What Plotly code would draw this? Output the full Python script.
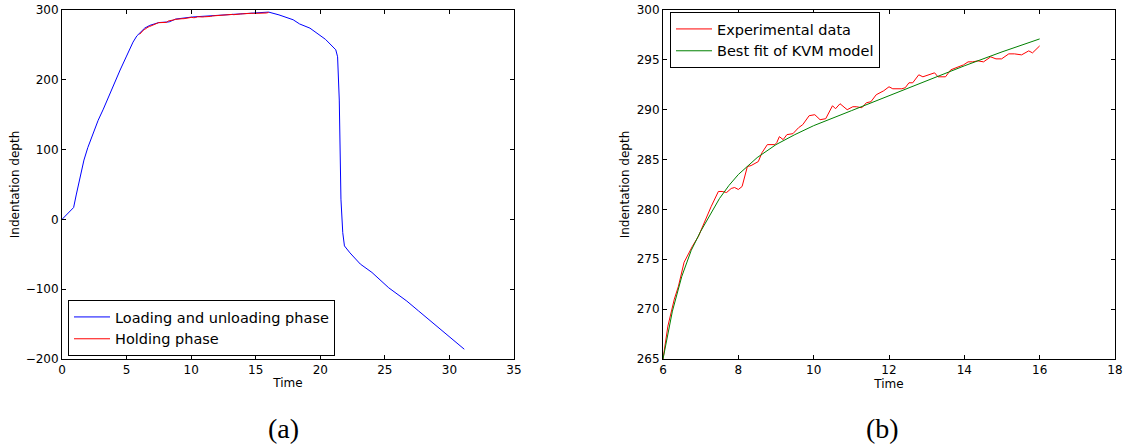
import plotly.graph_objects as go

# ---- Panel (a): loading and unloading phase ----
load_t = [0.0, 0.5, 0.9, 1.1, 1.4, 1.7, 2.0, 2.4, 2.8, 3.2, 3.6, 4.0, 4.5, 5.0, 5.5, 5.8,
          6.1, 6.4, 6.8, 7.5, 8.3, 8.8, 10.1, 12.5, 16.0, 16.8, 17.9, 18.4, 19.2, 20.4,
          21.2, 21.34, 21.47, 21.6, 21.74, 21.87, 22.3, 23.1, 24.0, 25.3, 26.7, 27.6,
          28.8, 29.9, 31.15]
load_d = [0, 10, 17, 35, 62, 85, 103, 124, 142, 158, 176, 194, 214, 234, 254, 263,
          269, 274, 278, 282, 283, 287, 290, 293, 297, 293, 286, 280, 274, 258,
          243, 233, 171, 29, -19, -38, -48, -64, -76, -98, -117, -131,
          -150, -167, -186]

# ---- Holding phase / experimental data (shared by both panels) ----
exp_t = [6.0, 6.13, 6.3, 6.41, 6.56, 6.66, 6.78, 6.94, 7.04, 7.18, 7.28, 7.47, 7.57, 7.69,
         7.81, 7.9, 8.0, 8.1, 8.24, 8.34, 8.53, 8.63, 8.77, 8.97, 9.02, 9.09, 9.19, 9.29,
         9.45, 9.6, 9.71, 9.88, 10.03, 10.17, 10.32, 10.5, 10.58, 10.7, 10.89, 11.04, 11.13,
         11.28, 11.4, 11.52, 11.66, 11.86, 12.0, 12.1, 12.34, 12.43, 12.53, 12.63, 12.79,
         12.9, 13.21, 13.3, 13.5, 13.64, 13.83, 13.98, 14.1, 14.22, 14.36, 14.51, 14.7,
         14.84, 14.99, 15.18, 15.33, 15.52, 15.71, 15.81, 16.0]
exp_d = [265.0, 268.3, 271.0, 272.3, 274.7, 275.5, 276.3, 277.3, 278.2, 279.3, 280.3, 281.8,
         281.8, 281.7, 282.1, 282.2, 282.0, 282.3, 284.3, 284.4, 284.8, 285.7, 286.5, 286.5,
         286.7, 287.3, 287.0, 287.5, 287.6, 288.2, 288.5, 289.4, 289.5, 289.0, 289.1, 290.4,
         290.1, 290.6, 290.0, 290.3, 290.3, 290.2, 290.7, 290.8, 291.5, 291.9, 292.3, 292.1,
         292.1, 292.2, 292.7, 292.7, 293.5, 293.3, 293.7, 293.3, 293.3, 294.0, 294.3, 294.5,
         294.8, 294.8, 294.9, 294.8, 295.3, 295.1, 295.1, 295.6, 295.6, 295.5, 295.9, 295.7,
         296.4]

# ---- Best fit of KVM model ----
fit_t = [6.0, 6.25, 6.5, 6.75, 7.0, 7.25, 7.5, 7.75, 8.0, 8.5, 9.0, 9.5, 10.0, 11.0, 12.0,
         13.0, 14.0, 15.0, 16.0]
fit_d = [265.0, 269.8, 273.3, 275.9, 277.8, 279.5, 281.1, 282.4, 283.5, 285.2, 286.5, 287.5,
         288.4, 289.9, 291.4, 292.9, 294.4, 295.8, 297.1]

xticks_a = [0, 5, 10, 15, 20, 25, 30, 35]
yticks_a = [-200, -100, 0, 100, 200, 300]
xticks_b = [6, 8, 10, 12, 14, 16, 18]
yticks_b = [265, 270, 275, 280, 285, 290, 295, 300]

W, H = 1128, 448
FONT = "DejaVu Sans"

fig = go.Figure()
fig.add_trace(go.Scatter(x=load_t, y=load_d, mode="lines", name="Loading and unloading phase",
                         line=dict(color="#0000ff", width=1), xaxis="x", yaxis="y",
                         legend="legend"))
fig.add_trace(go.Scatter(x=exp_t, y=exp_d, mode="lines", name="Holding phase",
                         line=dict(color="#ff0000", width=1), xaxis="x", yaxis="y",
                         legend="legend"))
fig.add_trace(go.Scatter(x=exp_t, y=exp_d, mode="lines", name="Experimental data",
                         line=dict(color="#ff0000", width=1), xaxis="x2", yaxis="y2",
                         legend="legend2"))
fig.add_trace(go.Scatter(x=fit_t, y=fit_d, mode="lines", name="Best fit of KVM model",
                         line=dict(color="#008000", width=1), xaxis="x2", yaxis="y2",
                         legend="legend2"))

y0, y1 = 1 - 359 / H, 1 - 10 / H
ax_common = dict(showline=True, linecolor="black", linewidth=1, mirror="ticks",
                 ticks="inside", ticklen=4, tickcolor="black", tickwidth=1,
                 showgrid=False, zeroline=False, automargin=False,
                 tickfont=dict(family=FONT, size=12, color="black"))

leg_common = dict(xanchor="left", yanchor="top", bordercolor="black", borderwidth=1,
                  bgcolor="white", font=dict(family=FONT, size=14.5, color="black"),
                  tracegroupgap=0, itemwidth=36)

fig.update_layout(
    width=W, height=H,
    margin=dict(l=0, r=0, t=0, b=0),
    paper_bgcolor="white", plot_bgcolor="white",
    font=dict(family=FONT, color="black"),
    xaxis=dict(domain=[62 / W, 514 / W], range=[0, 35], tickvals=xticks_a,
               title=dict(text="Time", font=dict(size=12), standoff=2),
               anchor="y", **ax_common),
    yaxis=dict(domain=[y0, y1], range=[-200, 300], tickvals=yticks_a,
               title=dict(text="Indentation depth", font=dict(size=12), standoff=3),
               anchor="x", **ax_common),
    xaxis2=dict(domain=[663 / W, 1115 / W], range=[6, 18], tickvals=xticks_b,
                title=dict(text="Time", font=dict(size=12), standoff=2),
                anchor="y2", **ax_common),
    yaxis2=dict(domain=[y0, y1], range=[265, 300], tickvals=yticks_b,
                title=dict(text="Indentation depth", font=dict(size=12), standoff=4),
                anchor="x2", **ax_common),
    legend=dict(x=68 / W, y=1 - 300 / H, **leg_common),
    legend2=dict(x=670 / W, y=1 - 12 / H, **leg_common),
    annotations=[
        dict(text="(a)", x=283 / W, y=1 - 428 / H, xref="paper", yref="paper",
             xanchor="center", yanchor="middle", showarrow=False,
             font=dict(family="Liberation Serif", size=28, color="black")),
        dict(text="(b)", x=882 / W, y=1 - 428 / H, xref="paper", yref="paper",
             xanchor="center", yanchor="middle", showarrow=False,
             font=dict(family="Liberation Serif", size=28, color="black")),
    ],
)

fig.write_html("out.html", config={"displayModeBar": False},
               post_script="document.body.style.margin='0';document.body.style.padding='0';")
